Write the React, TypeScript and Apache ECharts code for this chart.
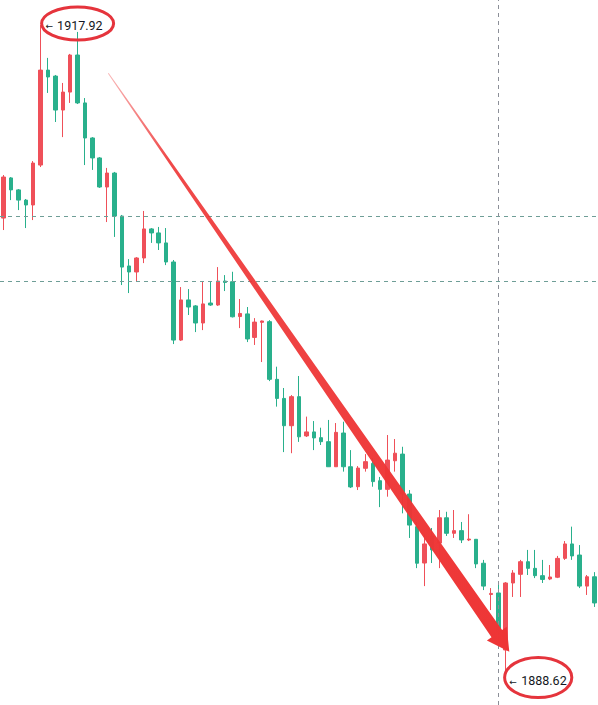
import React, { useEffect, useRef } from "react";
import * as echarts from "echarts";

// OHLC values (81 bars)
const opens = [
  1909.22, 1911.03, 1910.49, 1910.03, 1909.81, 1911.61, 1915.89, 1915.62, 1914.09, 1914.9,
  1916.57, 1914.41, 1912.83, 1911.93, 1910.62, 1911.25, 1909.31, 1907.06, 1906.79, 1907.42,
  1908.73, 1908.55, 1908.1, 1907.24, 1903.72, 1905.53, 1905.26, 1904.49, 1905.39, 1905.3,
  1906.38, 1906.35, 1904.78, 1904.9, 1903.84, 1904.52, 1904.55, 1901.95, 1901.09, 1899.86,
  1901.17, 1899.4, 1899.58, 1899.32, 1899.14, 1898.01, 1899.53, 1898.01, 1897.11, 1897.94,
  1898.16, 1897.38, 1896.99, 1898.28, 1898.58, 1896.78, 1895.31, 1893.67, 1894.89, 1894.57,
  1895.71, 1895.01, 1895.13, 1894.71, 1894.74, 1893.66, 1892.25, 1892.32, 1889.75, 1892.77,
  1893.16, 1893.73, 1893.43, 1893.1, 1892.95, 1893.03, 1893.88, 1894.53, 1894.03, 1892.63,
  1893.05,
];
const closes = [
  1911.07, 1910.49, 1910.03, 1909.81, 1911.7, 1915.89, 1915.58, 1914.09, 1914.9, 1916.57,
  1914.41, 1912.83, 1911.93, 1910.62, 1911.25, 1909.31, 1907.01, 1906.79, 1907.42, 1908.73,
  1908.55, 1908.1, 1907.24, 1903.72, 1905.53, 1905.21, 1904.49, 1905.35, 1905.3, 1906.38,
  1906.32, 1904.77, 1904.92, 1903.77, 1904.53, 1904.58, 1901.95, 1901.09, 1899.86, 1901.17,
  1899.36, 1899.58, 1899.31, 1899.14, 1898.01, 1899.56, 1898.01, 1897.1, 1897.95, 1898.24,
  1897.34, 1896.99, 1898.31, 1898.62, 1896.78, 1895.38, 1893.66, 1894.53, 1894.26, 1895.71,
  1895.01, 1895.13, 1894.71, 1894.75, 1893.63, 1892.63, 1892.3, 1890.56, 1892.77, 1893.22,
  1893.73, 1893.43, 1893.1, 1892.93, 1893.04, 1893.88, 1894.53, 1893.99, 1892.63, 1893.05,
  1891.87,
];
const lows = [
  1908.68, 1910.03, 1909.58, 1908.77, 1909.13, 1911.52, 1914.86, 1913.55, 1912.87, 1914.41,
  1914.36, 1911.61, 1911.39, 1910.58, 1909.04, 1908.37, 1906.2, 1905.84, 1906.34, 1907.19,
  1908.1, 1907.78, 1907.1, 1903.54, 1903.68, 1904.85, 1904.08, 1904.17, 1905.26, 1905.26,
  1905.93, 1904.74, 1904.26, 1903.63, 1903.5, 1902.73, 1901.87, 1900.72, 1898.67, 1898.62,
  1899.13, 1899.35, 1898.76, 1898.99, 1898.0, 1898.0, 1897.79, 1897.05, 1896.96, 1897.79,
  1897.11, 1896.19, 1896.66, 1897.79, 1895.91, 1894.8, 1893.44, 1892.63, 1893.67, 1893.44,
  1894.89, 1894.8, 1894.57, 1894.66, 1893.44, 1892.45, 1891.55, 1890.38, 1888.62, 1892.14,
  1892.14, 1893.13, 1892.99, 1892.77, 1892.9, 1892.99, 1893.81, 1893.81, 1892.54, 1892.23,
  1891.69,
];
const highs = [
  1911.16, 1911.07, 1910.53, 1910.08, 1911.79, 1917.92, 1916.44, 1915.67, 1915.31, 1916.62,
  1917.61, 1914.63, 1912.87, 1911.97, 1911.48, 1911.3, 1909.36, 1907.37, 1907.46, 1909.54,
  1908.77, 1908.82, 1908.77, 1907.33, 1906.11, 1906.02, 1905.3, 1906.34, 1906.34, 1907.01,
  1906.65, 1906.8, 1905.57, 1905.21, 1904.71, 1904.6, 1904.62, 1902.52, 1901.56, 1901.24,
  1902.1, 1900.27, 1900.07, 1899.77, 1900.12, 1899.98, 1900.04, 1898.76, 1898.04, 1898.58,
  1898.4, 1897.55, 1899.44, 1899.26, 1898.91, 1896.96, 1895.52, 1894.93, 1895.25, 1896.06,
  1895.98, 1896.06, 1895.52, 1895.87, 1894.75, 1893.81, 1892.54, 1892.77, 1892.81, 1893.35,
  1893.81, 1894.26, 1894.26, 1893.81, 1893.58, 1893.99, 1894.66, 1895.31, 1894.48, 1893.13,
  1893.26,
];
const categories = opens.map((_, i) => String(i + 1));

// price lines and marker
const priceLines = [1909.31, 1906.38];
const markerBar = "68";

// high / low annotations
const highIndex = 5;
const highValue = 1917.92;
const lowIndex = 68;
const lowValue = 1888.62;

const yMin = 1887.27;
const yMax = 1919.05;

const UP = "#ef5059";
const DOWN = "#29b08c";
const MARK = "#ee3535";

export default function App() {
  const ref = useRef<HTMLDivElement>(null);

  useEffect(() => {
    document.body.style.margin = "0";
    const chart = echarts.init(ref.current!, null, { renderer: "svg" });
    const data = opens.map((o, i) => [o, closes[i], lows[i], highs[i]]);

    chart.setOption({
      animation: false,
      backgroundColor: "#ffffff",
      grid: { left: -2.76, top: 0, width: 602.64, height: 705, containLabel: false },
      xAxis: {
        type: "category",
        data: categories,
        boundaryGap: true,
        show: false,
      },
      yAxis: {
        type: "value",
        min: yMin,
        max: yMax,
        show: false,
        splitLine: { show: false },
      },
      series: [
        {
          type: "candlestick",
          data,
          barWidth: 4,
          itemStyle: {
            color: UP,
            color0: DOWN,
            borderColor: UP,
            borderColor0: DOWN,
            borderWidth: 1,
          },
          markLine: {
            silent: true,
            symbol: "none",
            label: { show: false },
            data: [
              ...priceLines.map((v) => ({
                yAxis: v,
                lineStyle: { color: "#6f9e97", width: 1, type: [4, 4] },
              })),
              {
                xAxis: markerBar,
                lineStyle: { color: "#8c8f98", width: 1, type: [4, 4] },
              },
            ],
          },
        },
      ],
    });

    const hi = chart.convertToPixel({ gridIndex: 0 }, [highIndex, highValue]) as number[];
    const lo = chart.convertToPixel({ gridIndex: 0 }, [lowIndex, lowValue]) as number[];

    const font = "Roboto, Arial, sans-serif";
    const arrowFont = "9px 'DejaVu Sans', sans-serif";

    chart.setOption({
      graphic: [
        {
          type: "polygon",
          z: 100,
          shape: {
            points: [
              [107.9, 73.6],
              [491.5, 637.3],
              [486.9, 640.4],
              [509.3, 651.7],
              [506.7, 626.8],
              [502.1, 629.9],
              [108.7, 73.0],
            ],
          },
          style: {
            fill: new echarts.graphic.LinearGradient(0, 0, 1, 1, [
              { offset: 0, color: "rgba(238,53,53,0.35)" },
              { offset: 0.15, color: "rgba(238,53,53,0.9)" },
              { offset: 1, color: MARK },
            ]),
          },
        },
        {
          type: "ellipse",
          z: 101,
          shape: { cx: hi[0] + 37, cy: hi[1] - 1.5, rx: 36, ry: 16.5 },
          style: { fill: "transparent", stroke: "#e5343c", lineWidth: 3 },
        },
        {
          type: "ellipse",
          z: 101,
          shape: { cx: lo[0] + 32.5, cy: lo[1] + 2.5, rx: 33.6, ry: 20 },
          style: { fill: "transparent", stroke: "#e5343c", lineWidth: 3 },
        },
        {
          type: "text",
          z: 102,
          x: hi[0] + 5,
          y: hi[1] + 1,
          style: { text: "←", fill: "#131722", font: arrowFont, verticalAlign: "middle", align: "left" },
        },
        {
          type: "text",
          z: 102,
          x: hi[0] + 16.5,
          y: hi[1] + 0.5,
          style: { text: highValue.toFixed(2), fill: "#131722", font: `12.5px ${font}`, verticalAlign: "middle", align: "left" },
        },
        {
          type: "text",
          z: 102,
          x: lo[0] + 3.5,
          y: lo[1] + 7,
          style: { text: "←", fill: "#131722", font: arrowFont, verticalAlign: "middle", align: "left" },
        },
        {
          type: "text",
          z: 102,
          x: lo[0] + 15.5,
          y: lo[1] + 5.5,
          style: { text: lowValue.toFixed(2), fill: "#131722", font: `12.5px ${font}`, verticalAlign: "middle", align: "left" },
        },
      ],
    });

    return () => chart.dispose();
  }, []);

  return (
    <div
      style={{
        position: "fixed",
        left: 0,
        top: 0,
        width: 598,
        height: 705,
        overflow: "hidden",
        background: "#ffffff",
      }}
    >
      <div ref={ref} style={{ width: 598, height: 705 }} />
    </div>
  );
}
